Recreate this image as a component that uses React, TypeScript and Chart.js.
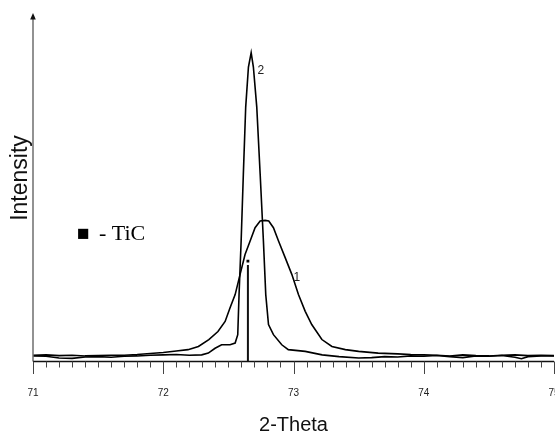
import React, { useEffect, useRef } from "react";
import { Chart, registerables } from "chart.js";

Chart.register(...registerables);

// ---- data ----
const X_MIN = 71;
const X_MAX = 75;
const X_MAJOR_TICKS = [71, 72, 73, 74, 75];
const MINOR_PER_MAJOR = 10;

const curve1X = [71.0, 71.1, 71.2, 71.3, 71.4, 71.5, 71.6, 71.7, 71.8, 71.9, 72.0, 72.1, 72.19, 72.27, 72.35, 72.42, 72.475, 72.513, 72.552, 72.59, 72.628, 72.667, 72.705, 72.744, 72.782, 72.81, 72.846, 72.885, 72.936, 72.987, 73.038, 73.09, 73.14, 73.218, 73.295, 73.398, 73.5, 73.65, 73.8, 73.9, 74.0, 74.1, 74.2, 74.3, 74.4, 74.5, 74.6, 74.7, 74.8, 74.9, 75.0];
const curve1Y = [1.8, 1.9, 1.7, 1.8, 1.6, 1.7, 1.8, 1.8, 2.0, 2.3, 2.6, 3.0, 3.4, 4.3, 6.3, 8.6, 11.5, 15.4, 19.2, 25.0, 30.7, 34.6, 38.4, 40.3, 40.5, 40.3, 38.4, 34.6, 29.8, 25.0, 19.2, 14.4, 10.6, 6.3, 4.3, 3.4, 2.9, 2.4, 2.2, 2.0, 1.9, 1.8, 1.6, 1.9, 1.7, 1.6, 1.8, 1.9, 1.7, 1.8, 1.7];

const curve2X = [71.0, 71.1, 71.2, 71.3, 71.4, 71.5, 71.6, 71.7, 71.8, 71.9, 72.0, 72.1, 72.2, 72.295, 72.346, 72.398, 72.448, 72.513, 72.552, 72.572, 72.582, 72.598, 72.615, 72.633, 72.654, 72.675, 72.692, 72.718, 72.744, 72.769, 72.787, 72.808, 72.846, 72.91, 72.96, 73.09, 73.22, 73.35, 73.5, 73.6, 73.7, 73.8, 73.9, 74.0, 74.1, 74.2, 74.3, 74.4, 74.5, 74.6, 74.7, 74.75, 74.8, 74.9, 75.0];
const curve2Y = [1.6, 1.5, 1.0, 0.9, 1.3, 1.4, 1.2, 1.5, 1.6, 1.8, 1.9, 2.0, 1.8, 1.9, 2.4, 3.8, 4.8, 4.8, 5.3, 7.7, 19.2, 34.6, 53.8, 73.0, 84.5, 88.6, 84.5, 73.0, 53.8, 34.6, 19.2, 10.6, 7.7, 4.8, 3.4, 2.9, 1.9, 1.4, 1.0, 1.1, 1.4, 1.3, 1.6, 1.5, 1.7, 1.4, 1.1, 1.6, 1.5, 1.7, 1.2, 0.8, 1.4, 1.6, 1.6];

const ticPosition = 72.65;
const ticHeight = 27.7;
const ticMarkerHeight = 28.8;

const curveLabels = ["2", "1"];
const curveLabelX = [72.75, 73.025];
const curveLabelY = [83.4, 24.0];

const legendSymbol = "■";
const legendText = "- TiC";
const yTitle = "Intensity";

const SANS = "'Liberation Sans', Arial, sans-serif";
const SERIF = "'Liberation Serif', 'Times New Roman', serif";

const decorPlugin = {
  id: "xrdDecor",
  afterDraw(chart: any) {
    const { ctx, chartArea, scales } = chart;
    const x = scales.x;
    const y = scales.y;
    const left = chartArea.left;
    const bottom = chartArea.bottom;
    const top = chartArea.top;
    ctx.save();

    // y axis with arrow
    ctx.strokeStyle = "#6e6e6e";
    ctx.lineWidth = 1.5;
    ctx.beginPath();
    ctx.moveTo(left, bottom);
    ctx.lineTo(left, top + 5);
    ctx.stroke();
    ctx.fillStyle = "#111";
    ctx.beginPath();
    ctx.moveTo(left, top);
    ctx.lineTo(left - 2.8, top + 6.5);
    ctx.lineTo(left + 2.8, top + 6.5);
    ctx.closePath();
    ctx.fill();

    // x axis line
    ctx.strokeStyle = "#111";
    ctx.lineWidth = 1.5;
    ctx.beginPath();
    ctx.moveTo(left, bottom);
    ctx.lineTo(chartArea.right, bottom);
    ctx.stroke();

    // tick marks
    ctx.strokeStyle = "#444";
    ctx.lineWidth = 1;
    for (let m = 0; m < X_MAJOR_TICKS.length; m++) {
      const major = X_MAJOR_TICKS[m];
      const next = X_MAJOR_TICKS[m + 1];
      const px = Math.round(x.getPixelForValue(major)) + 0.5;
      ctx.beginPath();
      ctx.moveTo(px, bottom);
      ctx.lineTo(px, bottom + 12.5);
      ctx.stroke();
      if (next !== undefined) {
        for (let k = 1; k < MINOR_PER_MAJOR; k++) {
          const v = major + ((next - major) * k) / MINOR_PER_MAJOR;
          const mx = Math.round(x.getPixelForValue(v)) + 0.5;
          ctx.beginPath();
          ctx.moveTo(mx, bottom);
          ctx.lineTo(mx, bottom + 6);
          ctx.stroke();
        }
      }
    }

    // y title
    ctx.save();
    ctx.translate(21, 178);
    ctx.rotate(-Math.PI / 2);
    ctx.fillStyle = "#111";
    ctx.font = `23px ${SANS}`;
    ctx.textAlign = "center";
    ctx.textBaseline = "middle";
    ctx.fillText(yTitle, 0, 0);
    ctx.restore();

    // curve labels
    ctx.fillStyle = "#222";
    ctx.font = `12px ${SANS}`;
    ctx.textAlign = "center";
    ctx.textBaseline = "middle";
    for (let i = 0; i < curveLabels.length; i++) {
      ctx.fillText(curveLabels[i], x.getPixelForValue(curveLabelX[i]), y.getPixelForValue(curveLabelY[i]));
    }

    // legend text
    ctx.fillStyle = "#000";
    ctx.textAlign = "left";
    ctx.textBaseline = "alphabetic";
    ctx.font = `21px ${SERIF}`;
    ctx.fillText(legendSymbol, 77, 240);
    ctx.font = `22px ${SERIF}`;
    ctx.fillText(legendText, 99, 240);

    ctx.restore();
  },
};

export default function App() {
  const canvasRef = useRef<HTMLCanvasElement | null>(null);

  useEffect(() => {
    if (!canvasRef.current) return;
    const toPts = (xs: number[], ys: number[]) => xs.map((v, i) => ({ x: v, y: ys[i] }));
    const chart = new Chart(canvasRef.current, {
      type: "scatter",
      data: {
        datasets: [
          {
            label: "1",
            data: toPts(curve1X, curve1Y),
            showLine: true,
            borderColor: "#000",
            borderWidth: 1.6,
            pointRadius: 0,
            tension: 0,
          },
          {
            label: "2",
            data: toPts(curve2X, curve2Y),
            showLine: true,
            borderColor: "#000",
            borderWidth: 1.6,
            pointRadius: 0,
            tension: 0,
          },
          {
            label: "TiC",
            data: [
              { x: ticPosition, y: 0 },
              { x: ticPosition, y: ticHeight },
            ],
            showLine: true,
            borderColor: "#111",
            borderWidth: 2,
            pointRadius: 0,
          },
          {
            label: "TiC marker",
            data: [{ x: ticPosition, y: ticMarkerHeight }],
            showLine: false,
            pointStyle: "rect",
            pointRadius: 2,
            backgroundColor: "#000",
            borderColor: "#000",
            borderWidth: 0,
          },
        ],
      },
      options: {
        animation: false,
        responsive: false,
        maintainAspectRatio: false,
        layout: { padding: { left: 33, top: 13, right: 46, bottom: 0 } },
        plugins: { legend: { display: false }, tooltip: { enabled: false } },
        scales: {
          x: {
            type: "linear",
            min: X_MIN,
            max: X_MAX,
            afterBuildTicks: (axis: any) => {
              axis.ticks = X_MAJOR_TICKS.map((v) => ({ value: v }));
            },
            grid: { display: false, drawTicks: false, tickLength: 0 },
            border: { display: false },
            ticks: {
              color: "#222",
              padding: 26,
              font: { size: 10, family: SANS },
            },
            title: {
              display: true,
              text: "2-Theta",
              color: "#111",
              font: { size: 20, family: SANS },
              padding: { top: -12.5, bottom: -1 },
            },
          },
          y: {
            type: "linear",
            display: false,
            min: 0,
            max: 100,
          },
        },
      },
      plugins: [decorPlugin],
    });
    return () => chart.destroy();
  }, []);

  return (
    <div
      style={{
        position: "fixed",
        left: 0,
        top: 0,
        width: 555,
        height: 436,
        overflow: "hidden",
        background: "#fff",
      }}
    >
      <canvas ref={canvasRef} width={600} height={436} style={{ display: "block" }} />
    </div>
  );
}
